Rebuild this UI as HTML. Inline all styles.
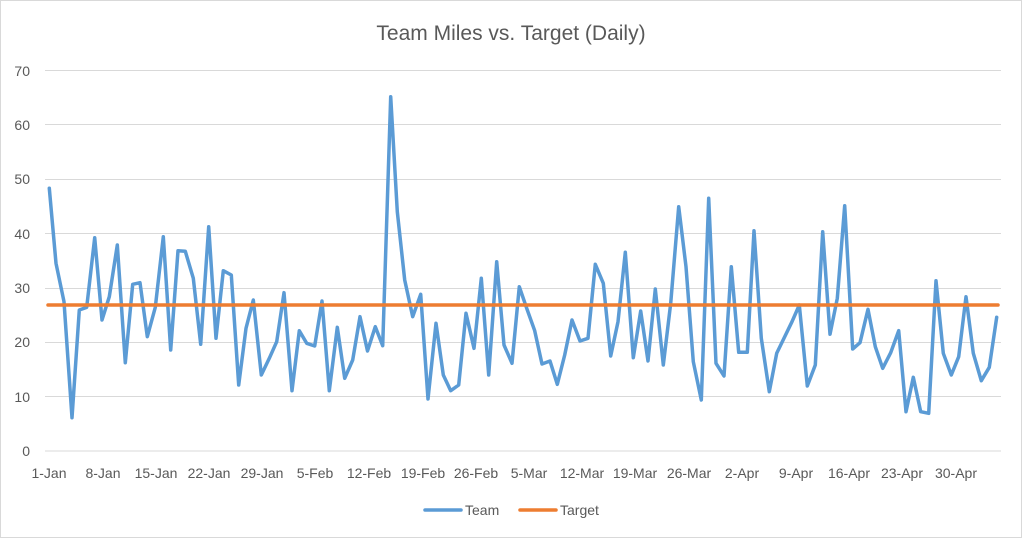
<!DOCTYPE html>
<html><head><meta charset="utf-8"><style>
body{margin:0;background:#fff;}
svg{display:block;font-family:"Liberation Sans",sans-serif;}
</style></head><body>
<svg width="1022" height="538" viewBox="0 0 1022 538">
<rect x="0.5" y="0.5" width="1021" height="537" fill="#fff" stroke="#d9d9d9"/>
<text x="511" y="40" text-anchor="middle" font-size="21" fill="#595959">Team Miles vs. Target (Daily)</text>
<g stroke="#d9d9d9" stroke-width="1">
<line x1="45" x2="1001" y1="70.5" y2="70.5"/><line x1="45" x2="1001" y1="124.5" y2="124.5"/>
<line x1="45" x2="1001" y1="179.5" y2="179.5"/><line x1="45" x2="1001" y1="233.5" y2="233.5"/>
<line x1="45" x2="1001" y1="288.5" y2="288.5"/><line x1="45" x2="1001" y1="342.5" y2="342.5"/>
<line x1="45" x2="1001" y1="396.5" y2="396.5"/><line x1="45" x2="1001" y1="451" y2="451"/>
</g>
<g font-size="14" fill="#595959" text-anchor="end">
<text x="30" y="76">70</text><text x="30" y="130">60</text><text x="30" y="184">50</text>
<text x="30" y="239">40</text><text x="30" y="293">30</text><text x="30" y="347">20</text>
<text x="30" y="402">10</text><text x="30" y="456">0</text>
</g>
<g font-size="14" fill="#595959" text-anchor="middle">
<text x="49" y="478">1-Jan</text><text x="103" y="478">8-Jan</text><text x="156" y="478">15-Jan</text>
<text x="209" y="478">22-Jan</text><text x="262" y="478">29-Jan</text><text x="315" y="478">5-Feb</text>
<text x="369" y="478">12-Feb</text><text x="423" y="478">19-Feb</text><text x="476" y="478">26-Feb</text>
<text x="529" y="478">5-Mar</text><text x="582" y="478">12-Mar</text><text x="635" y="478">19-Mar</text>
<text x="689" y="478">26-Mar</text><text x="742" y="478">2-Apr</text><text x="796" y="478">9-Apr</text>
<text x="849" y="478">16-Apr</text><text x="902" y="478">23-Apr</text><text x="956" y="478">30-Apr</text>
</g>
<polyline fill="none" stroke="#5b9bd5" stroke-width="3.5" stroke-linejoin="round" stroke-linecap="round" points="49.3,188.3 56,263.3 64,301.7 72,417.7 79.3,310 86.7,307.3 94.7,237.7 102,320 109.3,296.7 117.3,245 125.3,362.7 132.7,284.3 140,282.7 147.3,336.7 155.3,307.3 163.3,236.7 170.7,350 178,250.7 185.3,251.3 193.3,278.3 200.7,344.3 208.7,226.7 216,338.3 223.3,270.7 231.3,275 238.7,385 246,328.3 253.3,300 261.3,375 269.3,358.3 276.7,341.7 284,292.7 292,390.7 299.3,330.7 306.7,343.3 314.7,346 322,301 329.3,390.7 337.3,327.3 344.7,378.3 352.7,360 360,316.7 367.5,351 375.3,326.7 382.7,345.7 390.7,96.7 397.3,211.7 404.7,280 412.7,316.7 420.7,294.3 428,399 436,323.3 443.3,375 450.7,390.7 458.7,385 466,313.3 474,348.3 481.3,278.3 488.7,375 496.7,261.7 504,345 512,363.3 519.3,286.7 526.7,308.3 534.7,330.7 542,364 550,361 557.3,384.3 564.7,355 572,320 580,341 588,338.3 595.3,264.3 603.3,283.3 610.7,356 618,321.7 625.3,252.3 633.3,357.7 640.7,311 648,361 655.3,289 663.3,365 670.7,303.3 678.7,206.7 686,266.7 693.3,361.7 701.3,400 708.7,198.3 716,363.3 724,376 731.3,266.7 738.7,352.3 747.3,352.3 754,230.7 761.3,338.3 769.3,391.7 776.7,353.3 784.7,336.7 792,321.7 799.3,305 807.3,386 815.3,365 822.7,231.7 830,334.3 837.3,298.3 844.7,205.7 852.7,349 860,342.7 868,309.3 875.3,346.7 882.7,368.3 890.7,352.7 898.7,330.7 906,411.7 913.3,377.3 920.7,411.7 928.7,413.3 936,280.7 943.3,353.3 951.3,375 958.7,356.7 966,296.7 973.3,353.3 981.3,380.7 989.3,367.3 996.7,317.3"/>
<line x1="48" x2="998" y1="305" y2="305" stroke="#ed7d31" stroke-width="3.5" stroke-linecap="round"/>
<line x1="425" x2="461" y1="510" y2="510" stroke="#5b9bd5" stroke-width="3.5" stroke-linecap="round"/>
<text x="465" y="515" font-size="14" fill="#595959">Team</text>
<line x1="520" x2="556" y1="510" y2="510" stroke="#ed7d31" stroke-width="3.5" stroke-linecap="round"/>
<text x="560" y="515" font-size="14" fill="#595959">Target</text>
</svg>
</body></html>
